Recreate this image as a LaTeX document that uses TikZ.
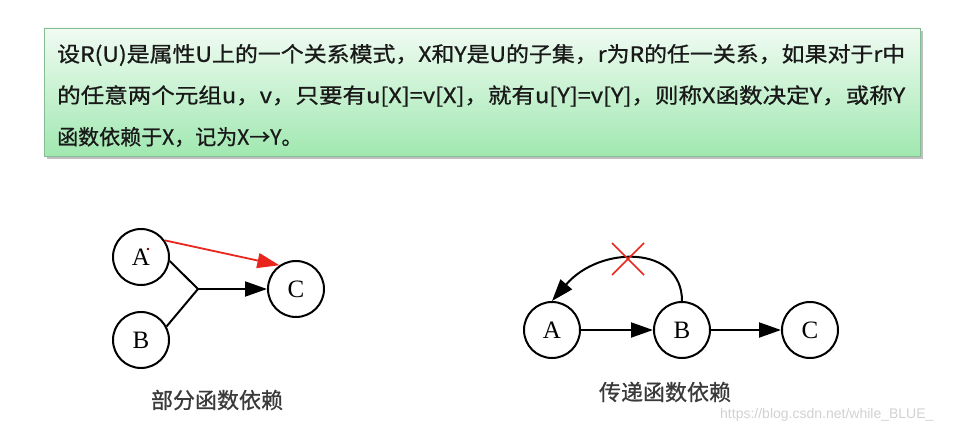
\documentclass[tikz,border=0pt]{standalone}
\usepackage{fontspec}
\setmainfont{Liberation Serif}
\newfontfamily\cjk[FakeBold=0.8]{Noto Sans CJK SC}
\newfontfamily\wmfont{Liberation Sans}
\usetikzlibrary{arrows.meta}
\definecolor{boxtop}{HTML}{F0FBF2}
\definecolor{boxbot}{HTML}{A0E8B0}
\definecolor{boxline}{HTML}{86BC93}
\definecolor{redline}{HTML}{E8261E}
\definecolor{captiongray}{HTML}{3A3A3A}
\begin{document}
\begin{tikzpicture}[x=1pt,y=-1pt,
  circ/.style={circle,draw,line width=2pt,minimum size=56pt,inner sep=0pt,font=\fontsize{25}{25}\selectfont},
  conn/.style={line width=2pt},
  arr/.style={line width=2pt,-{Triangle[length=22pt,width=15pt]}},
  desc/.style={anchor=west,inner sep=0pt,font=\cjk\fontsize{21}{21}\selectfont,text=black!90},
  captext/.style={font=\cjk\fontsize{22}{22}\selectfont,text=captiongray}]
\useasboundingbox (0,0) rectangle (972,433);
% description box
\fill[black!25] (47,31) rectangle (923,159);
\shade[top color=boxtop,bottom color=boxbot,draw=boxline,line width=0.8pt] (44,28) rectangle (920,156);
\node[desc] (l1) at (57,55) {\resizebox{848pt}{\height}{设R(U)是属性U上的一个关系模式，X和Y是U的子集，r为R的任一关系，如果对于r中}};
\node[desc] (l2) at (57,96) {\resizebox{848pt}{\height}{的任意两个元组u，v，只要有u[X]=v[X]，就有u[Y]=v[Y]，则称X函数决定Y，或称Y}};
\node[desc] (l3) at (57,137) {函数依赖于X，记为X→Y。};
% partial dependency
\node[circ] (A1) at (141,257) {A};
\node[circ] (B1) at (141,340) {B};
\node[circ] (C1) at (296,289) {C};
\coordinate (J) at (198,289);
\fill[black!60!red] (148,249) circle (1.3);
\draw[conn] (A1.-8) -- (J) -- (B1.28);
\draw[arr] (J) -- (C1);
\draw[arr,redline,line width=1.8pt] (A1.35) -- (C1.125);
\node[captext] (cap1) at (217,400) {部分函数依赖};
% transitive dependency
\node[circ] (A2) at (552,330) {A};
\node[circ] (B2) at (682,330) {B};
\node[circ] (C2) at (810,330) {C};
\draw[arr] (A2) -- (B2);
\draw[arr] (B2) -- (C2);
\draw[arr] (B2.north) .. controls (682,245) and (600,245) .. (A2.north);
\draw[redline,line width=1.5pt] (612,243) -- (644,275) (612,275) -- (644,243);
\node[captext] (cap2) at (665,392) {传递函数依赖};
% watermark
\node[anchor=west,inner sep=0pt,text=black!18,font=\wmfont\fontsize{14}{14}\selectfont] (wm) at (720,415) {https://blog.csdn.net/while\_BLUE\_};
\end{tikzpicture}
\end{document}
